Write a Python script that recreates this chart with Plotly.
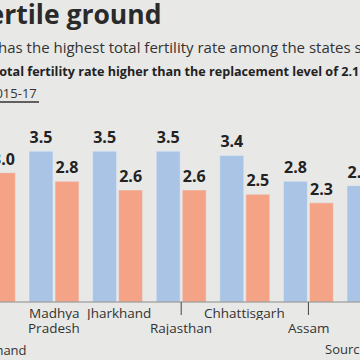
import plotly.graph_objects as go

states = ["Uttar Pradesh*", "Madhya Pradesh", "Jharkhand", "Rajasthan", "Chhattisgarh", "Assam", "Gujarat"]
label_lines = [["Uttar", "Pradesh*"], ["Madhya", "Pradesh"], ["Jharkhand"], ["Rajasthan"], ["Chhattisgarh"], ["Assam"], ["Gujarat"]]
label_row = ["upper", "upper", "upper", "lower", "upper", "lower", "upper"]
tfr_old = [4.4, 3.5, 3.5, 3.5, 3.4, 2.8, 2.7]   # 1999-2001 (blue)
tfr_new = [3.0, 2.8, 2.6, 2.6, 2.5, 2.3, 2.2]   # 2015-17 (orange)

BG = "#e8e8e6"
BLUE = "#a9c4e4"
ORANGE = "#f4a386"
TXT = "#222222"
FONT = "Open Sans"

W, H = 360, 360
BASE = 302
TOP = 110

def px(x):
    return x / W

def py(y):
    return (BASE - y) / (BASE - TOP)

fig = go.Figure()
for vals, name, col in ((tfr_old, "1999-2001", BLUE), (tfr_new, "2015-17", ORANGE)):
    fig.add_trace(go.Bar(x=states, y=vals, name=name, marker_color=col,
                         text=[f"{v:.1f}" for v in vals], textposition="outside",
                         textfont=dict(family=FONT, size=16, color=TXT, weight="bold"),
                         constraintext="none", cliponaxis=False))

ann = []
ann.append(dict(text="<b>Fertile ground</b>", x=px(163), y=py(14), yref="paper", xref="paper",
                xanchor="right", yanchor="middle", showarrow=False,
                font=dict(family=FONT, size=26.5, color="#2a2a2a")))
ann.append(dict(text="Bihar has the highest total fertility rate among the states surveyed",
                x=px(-45), xref="paper", xanchor="left", y=py(47), yref="paper", yanchor="middle",
                showarrow=False, font=dict(family=FONT, size=15, color="#333")))
ann.append(dict(text="<b>Total fertility rate higher than the replacement level of 2.1</b>",
                x=px(-10), xref="paper", xanchor="left", y=py(71), yref="paper", yanchor="middle",
                showarrow=False, font=dict(family=FONT, size=12.6, color="#222")))
ann.append(dict(text="2015-17", x=px(39), xref="paper", xanchor="right", y=py(93), yref="paper",
                yanchor="middle", showarrow=False, font=dict(family=FONT, size=13, color="#333")))

for s, lines, row in zip(states, label_lines, label_row):
    y0 = 312 if row == "upper" else 327
    for k, line in enumerate(lines):
        ann.append(dict(text=line, x=s, xref="x", y=py(y0 + 15 * k), yref="paper",
                        xanchor="center", yanchor="middle", showarrow=False, height=15,
                        font=dict(family=FONT, size=13.5, color="#333")))

ann.append(dict(text="*Includes Uttarakhand", x=px(29), xref="paper", xanchor="right",
                y=py(350), yref="paper", yanchor="middle", showarrow=False,
                font=dict(family=FONT, size=13, color="#333")))
ann.append(dict(text="Source: SRS", x=px(323), xref="paper", xanchor="left",
                y=py(349), yref="paper", yanchor="middle", showarrow=False,
                font=dict(family=FONT, size=13, color="#333")))

shapes = [
    dict(type="line", xref="paper", yref="paper", x0=0, x1=1, y0=0, y1=0,
         line=dict(color="#8a8a8a", width=1)),
    dict(type="line", xref="paper", yref="paper", x0=px(0), x1=px(39), y0=py(102), y1=py(102),
         line=dict(color="#333", width=1.5)),
]
for s, row in zip(states, label_row):
    if row == "lower":
        shapes.append(dict(type="line", xref="x", yref="paper", x0=s, x1=s,
                           y0=py(BASE), y1=py(315), line=dict(color="#444", width=1)))

fig.update_layout(
    width=W, height=H, paper_bgcolor=BG, plot_bgcolor=BG,
    margin=dict(l=0, r=0, t=TOP, b=H - BASE),
    barmode="group", bargap=0.182, bargroupgap=0.08,
    showlegend=False,
    xaxis=dict(range=[0.151, 5.811], showticklabels=False, showgrid=False, zeroline=False,
               ticks="", fixedrange=True),
    yaxis=dict(range=[0, (BASE - TOP) / 43.1], visible=False, showgrid=False, fixedrange=True),
    annotations=ann, shapes=shapes,
)

fig.write_html("out.html", config={"displayModeBar": False},
               post_script="document.body.style.margin='0';document.body.style.overflow='hidden';")
